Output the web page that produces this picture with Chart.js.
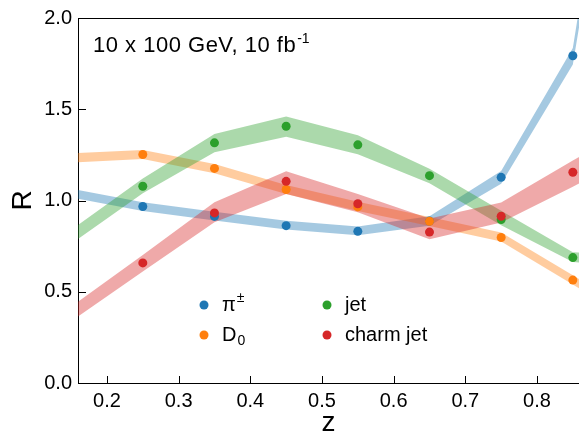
<!DOCTYPE html>
<html>
<head>
<meta charset="utf-8">
<script src="https://cdn.jsdelivr.net/npm/chart.js@4"></script>
<style>
  html, body { margin: 0; padding: 0; background: #fff; overflow: hidden; }
  #wrap { width: 579px; height: 434px; }
</style>
</head>
<body>
<div id="wrap"><canvas id="ratio"></canvas></div>
<script>
// band vertices and measured points
var zGrid = [0.15, 0.25, 0.35, 0.45, 0.55, 0.65, 0.75, 0.85, 0.95];
var zDots = [0.25, 0.35, 0.45, 0.55, 0.65, 0.75, 0.85];

var piLow  = [1.016, 0.943, 0.891, 0.841, 0.809, 0.862, 1.092, 1.745, 4.1];
var piHigh = [1.064, 0.991, 0.939, 0.889, 0.857, 0.914, 1.162, 1.835, 4.3];
var piDots = [0.967, 0.913, 0.862, 0.831, 0.887, 1.127, 1.793];

var dLow  = [1.208, 1.227, 1.150, 1.035, 0.943, 0.860, 0.775, 0.540, 0.305];
var dHigh = [1.258, 1.277, 1.200, 1.085, 0.993, 0.910, 0.825, 0.590, 0.355];
var dDots = [1.252, 1.176, 1.060, 0.965, 0.886, 0.797, 0.564];

var jetLow  = [0.762, 1.040, 1.264, 1.350, 1.254, 1.094, 0.864, 0.663, 0.633];
var jetHigh = [0.838, 1.120, 1.364, 1.460, 1.358, 1.174, 0.944, 0.717, 0.687];
var jetDots = [1.078, 1.316, 1.407, 1.305, 1.136, 0.896, 0.687];

var cLow  = [0.338, 0.611, 0.881, 1.036, 0.936, 0.788, 0.879, 1.075, 1.280];
var cHigh = [0.418, 0.701, 0.991, 1.160, 1.036, 0.902, 0.989, 1.219, 1.440];
var cDots = [0.658, 0.932, 1.105, 0.982, 0.827, 0.914, 1.155];

var xTicks = [0.2, 0.3, 0.4, 0.5, 0.6, 0.7, 0.8];
var yTicks = [0.0, 0.5, 1.0, 1.5, 2.0];

var runText = '10 x 100 GeV, 10 fb';
var runSup = '-1';

var series = [
  { name: 'π', sup: '±', color: '31, 119, 180', low: piLow, high: piHigh, dots: piDots },
  { name: 'D', sub: '0', color: '255, 127, 14', low: dLow, high: dHigh, dots: dDots },
  { name: 'jet', color: '44, 160, 44', low: jetLow, high: jetHigh, dots: jetDots },
  { name: 'charm jet', color: '214, 39, 40', low: cLow, high: cHigh, dots: cDots }
];

var FONT = "'Liberation Sans', Arial, Helvetica, sans-serif";
Chart.defaults.font.family = FONT;
Chart.defaults.color = '#000';

function pts(xs, ys) {
  return xs.map(function (x, i) { return { x: x, y: ys[i] }; });
}

var datasets = [];
series.forEach(function (s, i) {
  datasets.push({
    label: s.name + ' low',
    data: pts(zGrid, s.low),
    borderColor: 'rgba(0,0,0,0)',
    borderWidth: 0,
    pointRadius: 0,
    fill: false,
    order: 20 - i * 2
  });
  datasets.push({
    label: s.name + ' high',
    data: pts(zGrid, s.high),
    borderColor: 'rgba(0,0,0,0)',
    borderWidth: 0,
    pointRadius: 0,
    backgroundColor: 'rgba(' + s.color + ', 0.4)',
    fill: '-1',
    order: 19 - i * 2
  });
});
series.forEach(function (s, i) {
  datasets.push({
    label: s.name,
    data: pts(zDots, s.dots),
    showLine: false,
    pointRadius: 4.5,
    pointBorderWidth: 0,
    pointBackgroundColor: 'rgb(' + s.color + ')',
    order: 3 - i
  });
});

var frame = {
  id: 'frame',
  afterDraw: function (chart) {
    var c = chart.ctx, a = chart.chartArea;
    var xs = chart.scales.x, ys = chart.scales.y;
    c.save();
    c.strokeStyle = '#000';
    c.lineWidth = 1;
    c.beginPath();
    c.moveTo(a.left, a.top + 0.5);
    c.lineTo(chart.width, a.top + 0.5);
    xTicks.forEach(function (v) {
      var px = Math.round(xs.getPixelForValue(v)) + 0.5;
      c.moveTo(px, a.bottom);
      c.lineTo(px, a.bottom - 7);
    });
    yTicks.forEach(function (v) {
      var py = Math.round(ys.getPixelForValue(v)) + 0.5;
      c.moveTo(a.left, py);
      c.lineTo(a.left + 8, py);
    });
    c.stroke();
    c.restore();

    // run label
    var tx = a.left + 15, ty = a.top + 34;
    c.save();
    c.fillStyle = '#000';
    c.textBaseline = 'alphabetic';
    c.textAlign = 'left';
    c.font = '22px ' + FONT;
    c.letterSpacing = '0.5px';
    c.fillText(runText, tx, ty);
    var w = c.measureText(runText).width;
    c.font = '14px ' + FONT;
    c.letterSpacing = '0px';
    c.fillText(runSup, tx + w + 1, ty - 9);
    c.restore();

    // legend
    var cols = [a.left + 126, a.left + 249];
    var rows = [a.top + 287, a.top + 317];
    var place = [[0, 0], [0, 1], [1, 0], [1, 1]];
    c.save();
    series.forEach(function (s, i) {
      var dx = cols[place[i][0]], dy = rows[place[i][1]];
      c.fillStyle = 'rgb(' + s.color + ')';
      c.beginPath();
      c.arc(dx, dy, 4.5, 0, Math.PI * 2);
      c.fill();
      c.fillStyle = '#000';
      c.textBaseline = 'middle';
      c.font = '20px ' + FONT;
      var lx = dx + 18;
      c.fillText(s.name, lx, dy);
      var nw = c.measureText(s.name).width;
      c.font = '14px ' + FONT;
      if (s.sup) c.fillText(s.sup, lx + nw + 1, dy - 7);
      if (s.sub) c.fillText(s.sub, lx + nw + 1, dy + 6);
    });
    c.restore();
  }
};

new Chart(document.getElementById('ratio'), {
  type: 'line',
  data: { datasets: datasets },
  plugins: [frame],
  options: {
    responsive: true,
    maintainAspectRatio: false,
    animation: false,
    events: [],
    layout: { autoPadding: false, padding: { top: 17, right: 0, left: 0, bottom: 0 } },
    plugins: {
      legend: { display: false },
      tooltip: { enabled: false }
    },
    scales: {
      x: {
        type: 'linear',
        min: 0.1596,
        max: 0.8586,
        afterFit: function (s) { s.height = 51; },
        afterBuildTicks: function (s) { s.ticks = xTicks.map(function (v) { return { value: v }; }); },
        grid: { display: false, drawTicks: false },
        border: { display: true, color: '#000', width: 1 },
        ticks: {
          padding: 6,
          font: { size: 20 },
          callback: function (v) { return v.toFixed(1); }
        },
        title: {
          display: true,
          text: 'z',
          font: { size: 28, lineHeight: 1 },
          padding: { top: 0, bottom: -3 }
        }
      },
      y: {
        min: 0,
        max: 2,
        afterFit: function (s) { s.width = 78; },
        afterBuildTicks: function (s) { s.ticks = yTicks.map(function (v) { return { value: v }; }); },
        grid: { display: false, drawTicks: false },
        border: { display: true, color: '#000', width: 1 },
        ticks: {
          padding: 6,
          font: { size: 20 },
          callback: function (v) { return v.toFixed(1); }
        },
        title: {
          display: true,
          text: 'R',
          font: { size: 28, lineHeight: 1 },
          padding: { top: 9, bottom: 0 }
        }
      }
    }
  }
});
</script>
</body>
</html>
